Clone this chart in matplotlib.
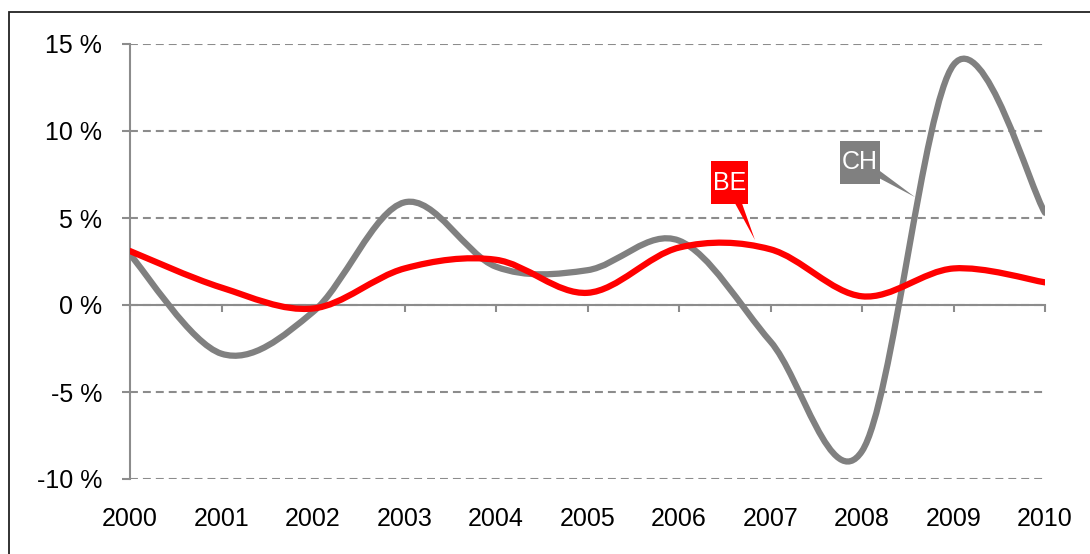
import numpy as np
import matplotlib.pyplot as plt
from matplotlib.path import Path
from matplotlib.patches import PathPatch, Rectangle

plt.rcParams['font.family'] = ['Liberation Sans', 'DejaVu Sans']

years = ['2000', '2001', '2002', '2003', '2004', '2005',
         '2006', '2007', '2008', '2009', '2010']
ch = [2.9, -2.8, -0.4, 5.9, 2.2, 2.0, 3.7, -2.1, -8.4, 13.8, 5.3]
be = [3.1, 1.0, -0.2, 2.1, 2.6, 0.7, 3.3, 3.2, 0.5, 2.1, 1.3]
y_ticks = [-10, -5, 0, 5, 10, 15]
y_labels = ['-10 %', '-5 %', '0 %', '5 %', '10 %', '15 %']

GREY = '#808080'
RED = '#ff0000'
AXIS = '#8c8c8c'


def smooth_path(ys):
    # excel-like smoothed line: cubic bezier through every point
    pts = np.column_stack([np.arange(len(ys)), ys]).astype(float)
    n = len(pts)
    verts = [pts[0]]
    codes = [Path.MOVETO]
    for i in range(n - 1):
        prev = pts[max(i - 1, 0)]
        nxt = pts[min(i + 2, n - 1)]
        c1 = pts[i] + (pts[i + 1] - prev) / 6
        c2 = pts[i + 1] - (nxt - pts[i]) / 6
        verts += [c1, c2, pts[i + 1]]
        codes += [Path.CURVE4] * 3
    return Path(verts, codes)


def label_box(x0, y0, width, height, mutation_size):
    # narrow side margins, taller top/bottom margins like the excel label
    px = 0.08 * mutation_size
    py = 0.38 * mutation_size
    return Path([(x0 - px, y0 - py), (x0 + width + px, y0 - py),
                 (x0 + width + px, y0 + height + py), (x0 - px, y0 + height + py),
                 (x0 - px, y0 - py)], closed=True)


fig = plt.figure(figsize=(10.9, 5.54), dpi=100)
ax = fig.add_axes([130 / 1090, 1 - 479 / 554, (1045 - 130) / 1090, (479 - 44) / 554])

ax.set_xlim(0, len(years) - 1)
ax.set_ylim(-10, 15)

ax.set_yticks(y_ticks)
ax.set_yticklabels(y_labels)
ax.yaxis.grid(True, ls=(0, (3.8, 2.4)), color=AXIS, lw=1.5)
ax.set_axisbelow(True)
ax.tick_params(axis='y', direction='out', length=6, width=1.5, color=AXIS,
               pad=14, labelsize=18)

ax.spines['top'].set_visible(False)
ax.spines['right'].set_visible(False)
ax.spines['left'].set_color(AXIS)
ax.spines['left'].set_linewidth(1.5)
ax.spines['bottom'].set_position(('data', 0))
ax.spines['bottom'].set_color(AXIS)
ax.spines['bottom'].set_linewidth(1.5)
ax.set_xticks(range(len(years)))
ax.tick_params(axis='x', direction='out', length=5, width=1.5, color=AXIS,
               labelbottom=False)

sec = ax.secondary_xaxis('bottom')
sec.set_xticks(range(len(years)))
sec.set_xticklabels(years)
sec.tick_params(length=0, pad=20, labelsize=18)
sec.spines['bottom'].set_visible(False)

ax.add_patch(PathPatch(smooth_path(ch), fc='none', ec=GREY, lw=4.5,
                       capstyle='round', joinstyle='round', zorder=3))
ax.add_patch(PathPatch(smooth_path(be), fc='none', ec=RED, lw=4.5,
                       capstyle='round', joinstyle='round', zorder=4))

# callout labels
ax.annotate('CH', xy=(8.58, 6.2), xytext=(7.98, 8.19), color='white',
            fontsize=18, ha='center', va='center', zorder=6,
            bbox=dict(boxstyle=label_box, fc=GREY, ec='none'),
            arrowprops=dict(arrowstyle='wedge,tail_width=0.4', fc=GREY,
                            ec='none', patchA=None, shrinkA=0, shrinkB=0))
ax.annotate('BE', xy=(6.83, 3.74), xytext=(6.55, 7.04), color='white',
            fontsize=18, ha='center', va='center', zorder=6,
            bbox=dict(boxstyle=label_box, fc=RED, ec='none'),
            arrowprops=dict(arrowstyle='wedge,tail_width=0.4', fc=RED,
                            ec='none', patchA=None, shrinkA=0, shrinkB=0))

# outer frame (right/bottom edges fall outside the image)
fig.patches.append(Rectangle((9 / 1090, -0.1), 1.2, 1.1 - 12 / 554,
                             transform=fig.transFigure, fill=False,
                             ec='#222222', lw=1.3, clip_on=False))

fig.savefig('out.png', dpi=100)
